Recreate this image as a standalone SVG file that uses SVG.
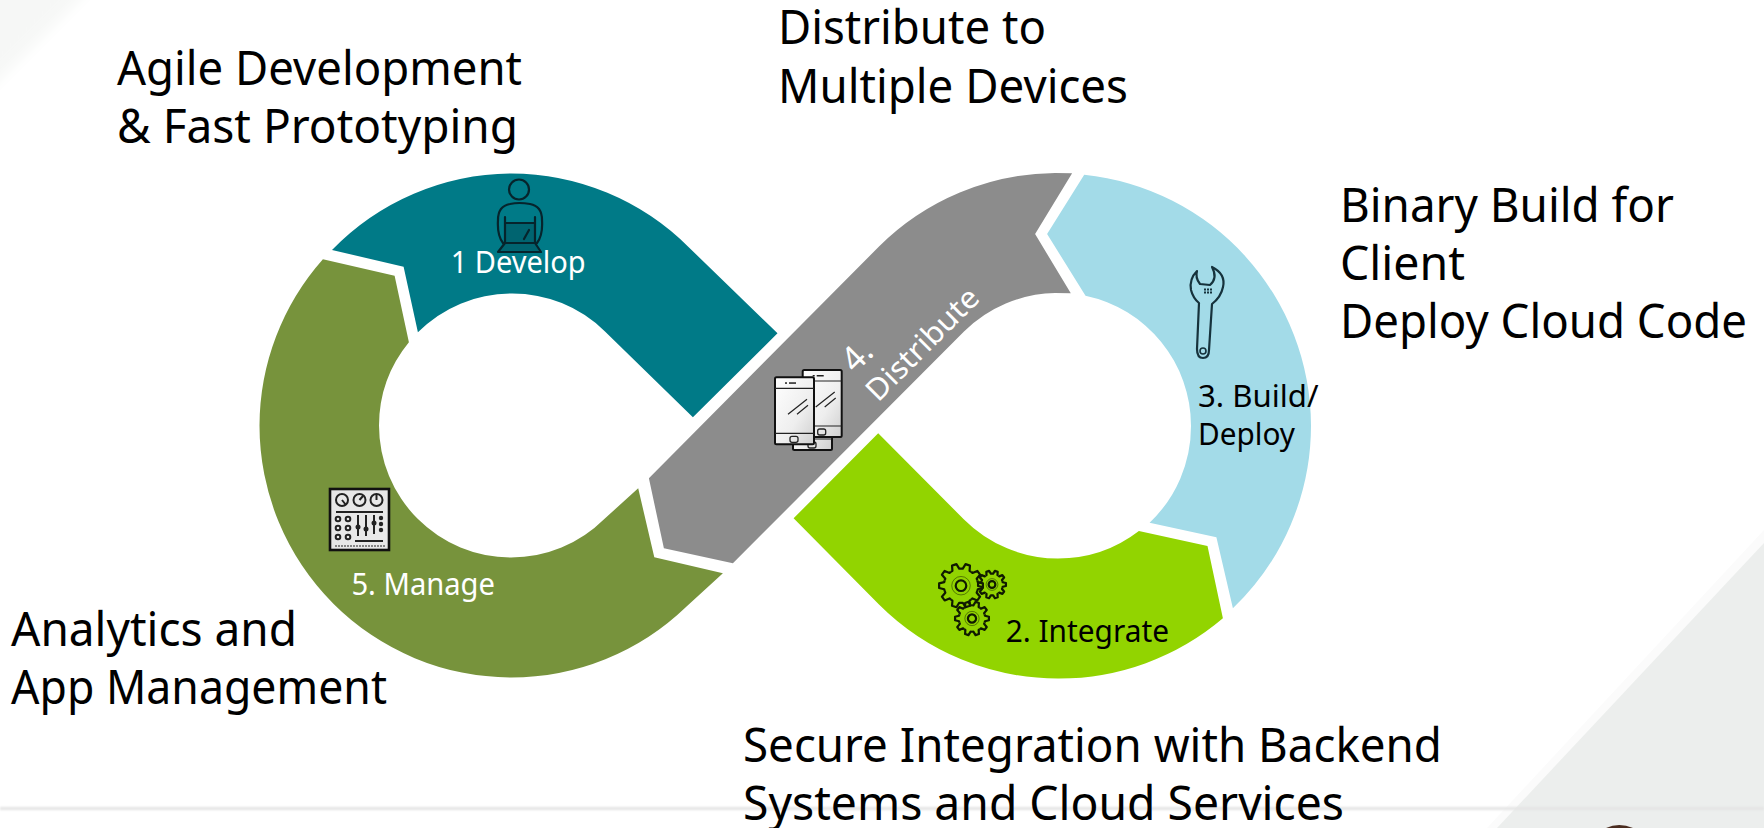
<svg xmlns="http://www.w3.org/2000/svg" xmlns:xlink="http://www.w3.org/1999/xlink" width="1764" height="828" viewBox="0 0 1764 828">
<style>
text{font-family:"Noto Sans","Lato","Liberation Sans",sans-serif;font-variant-ligatures:none}
.h{font-size:47px;fill:#000}
.w{font-size:30px;fill:#fff}
.k{font-size:30px;fill:#000}
.ic{fill:none;stroke:#06242c;stroke-width:2.200;stroke-linejoin:round;stroke-linecap:round}
.ph{fill:url(#pg);stroke:#111;stroke-width:2}
.phl{fill:none;stroke:#222;stroke-width:1.200}
.t{fill:none;stroke:#101a00;stroke-width:2.200;stroke-linejoin:round;vector-effect:non-scaling-stroke}
.m{fill:none;stroke:#222;stroke-width:2}
.md{fill:#222}
</style>
<defs>
<filter id="soft" x="-20%" y="-20%" width="140%" height="140%"><feGaussianBlur stdDeviation="6"/></filter>
<filter id="softer" x="-5%" y="-200%" width="110%" height="500%"><feGaussianBlur stdDeviation="1.200"/></filter>
<linearGradient id="pg" x1="0" y1="0" x2="1" y2="1"><stop offset="0" stop-color="#fff"/><stop offset="0.6" stop-color="#eee"/><stop offset="1" stop-color="#cfcfcf"/></linearGradient>
<linearGradient id="tl" x1="0" y1="0" x2="1" y2="1"><stop offset="0" stop-color="#f5f6f5"/><stop offset="0.45" stop-color="#f7f8f7"/><stop offset="1" stop-color="#ffffff"/></linearGradient>
<path id="tooth" class="t" d="M74.200-24.100L76.300-16.200L99.500-10.500V10.500L76.300 16.200L74.200 24.100"/>
<g id="gear">
<use xlink:href="#tooth"/><use xlink:href="#tooth" transform="rotate(36)"/><use xlink:href="#tooth" transform="rotate(72)"/><use xlink:href="#tooth" transform="rotate(108)"/><use xlink:href="#tooth" transform="rotate(144)"/><use xlink:href="#tooth" transform="rotate(180)"/><use xlink:href="#tooth" transform="rotate(216)"/><use xlink:href="#tooth" transform="rotate(252)"/><use xlink:href="#tooth" transform="rotate(288)"/><use xlink:href="#tooth" transform="rotate(324)"/>
<circle class="t" r="24"/><circle r="42" fill="none" stroke="#101a00" stroke-width="0.8" vector-effect="non-scaling-stroke" stroke-opacity=".6"/>
</g>
<g id="phone">
<rect class="ph" x="0" y="0" width="39" height="67" rx="1.500"/>
<path class="phl" d="M0 11H39M0 56H39"/>
<rect x="10" y="5" width="2" height="1.500" fill="#222"/><rect x="14" y="5" width="7" height="1.500" fill="#222"/>
<rect x="15" y="59" width="8" height="6" rx="2" fill="none" stroke="#222" stroke-width="1.300"/>
<path class="phl" d="M13 37L32 22M22 37L33 28"/>
</g>
</defs>
<g id="background">
<rect width="1764" height="828" fill="#fff"/>
<path d="M-20 -20H100L-20 100Z" fill="url(#tl)" filter="url(#soft)"/>
<path d="M1487 828L1764 530V543L1764 828Z" fill="#fbfbfb"/>
<path d="M1497 828L1764 543V828Z" fill="#eceeed"/>
<rect x="0" y="807" width="1764" height="3" fill="#e4e4e4" filter="url(#softer)"/>
<path d="M1606 828Q1619 822 1633 828Z" fill="#4a2c1f"/>
</g>
<g id="develop">
<path fill="#007a87" d="M332 250A252 252 0 0 1 511 173.500A252 252 0 0 1 689 247.500L777.500 333.300L692.900 417.300L605 331.500A132 132 0 0 0 511 293.500A132 132 0 0 0 417.900 332.300L403.600 266.700Z"/>
<g class="ic">
<circle cx="519" cy="189.500" r="10"/>
<path d="M503 243Q497 235 498 220Q498 206 510 204Q519 202 530 204Q542 206 542 220Q543 235 537 243"/>
<path d="M505 223H535V243H505Z" fill="#006470"/>
<path d="M498 252L505 243H535L541 252Z" fill="#006470"/>
<path d="M505 223V217M535 223V217M524 239L529 230"/>
</g>
<text class="w" x="450.700" y="273.300" textLength="135" lengthAdjust="spacingAndGlyphs">1 Develop</text>
</g>
<g id="manage">
<path fill="#77933c" d="M322.900 259.300L394.600 275.700L408.900 342.300A132 132 0 0 0 379 425.500A132 132 0 0 0 511 557.500A132 132 0 0 0 604.300 519L638.200 488.300L654.300 557.300L722.900 573.300L686 607A252 252 0 0 1 511 677.500A252 252 0 0 1 259.500 425.500A252 252 0 0 1 322.900 259.300Z"/>
<rect x="330" y="489" width="59" height="61" fill="#e8e8e8" stroke="#111" stroke-width="2.600"/>
<g class="m">
<circle cx="342" cy="500" r="6"/><circle cx="359.500" cy="500" r="6"/><circle cx="376.500" cy="500" r="6"/>
<path d="M336 512H383M355 541H383"/>
<circle cx="338" cy="519" r="2.300"/><circle cx="348" cy="519" r="2.300"/><circle cx="338" cy="528" r="2.300"/><circle cx="348" cy="528" r="2.300"/><circle cx="338" cy="537" r="2.300"/><circle cx="348" cy="537" r="2.300"/>
<path d="M358 515V536M366 515V536M374 515V534M342 500L346 505M359.500 500L363 496M376.500 495V500"/>
<path d="M335 546H385" stroke-width="1" stroke-dasharray="2 1"/>
</g>
<g class="md"><circle cx="358" cy="527" r="2.500"/><circle cx="366" cy="529" r="2.500"/><circle cx="374" cy="523" r="2.500"/><circle cx="381" cy="518" r="2.200"/><circle cx="381" cy="524" r="2.200"/><circle cx="381" cy="530" r="2.200"/></g>
<text class="w" x="351.400" y="595" textLength="143.600" lengthAdjust="spacingAndGlyphs">5. Manage</text>
</g>
<g id="distribute">
<path fill="#8c8c8c" d="M1055 173L1072.100 173.300L1035.100 234L1070.800 293.300L1055 293A133 133 0 0 0 964 331.500L732.900 563.300L663.900 548.300L648.900 478.300L879 246.500A253 253 0 0 1 1055 173Z"/>
<use xlink:href="#phone" transform="translate(793 383)"/>
<use xlink:href="#phone" transform="translate(802.700 370)"/>
<use xlink:href="#phone" transform="translate(775 377.300)"/>
<text class="w" transform="translate(855 374) rotate(-45)" style="font-size:34px">4.</text>
<text class="w" transform="translate(878 403) rotate(-45)" textLength="146" lengthAdjust="spacingAndGlyphs">Distribute</text>
</g>
<g id="build">
<path fill="#a3dbe8" d="M1084.200 174.700A253 253 0 0 1 1311 425.500A253 253 0 0 1 1232.900 608.300L1216.400 537.300L1149.600 522.700A133 133 0 0 0 1191 425.500A133 133 0 0 0 1085.500 295.700L1047.100 234Z"/>
<path fill="none" stroke="#16323c" stroke-width="2.200" stroke-linejoin="round" d="M1199 303L1197 349Q1197 358 1203 358Q1209 358 1209 350L1212 304Q1221 297 1223 287Q1226 274 1212 267Q1218 278 1210 285L1200 284Q1195 278 1197 271Q1189 279 1191 290Q1193 298 1199 303Z"/>
<circle cx="1203" cy="351" r="3" fill="none" stroke="#16323c" stroke-width="1.600"/>
<path d="M1204 289.500H1212M1204 292.500H1212" stroke="#16323c" stroke-width="2" stroke-dasharray="2 1"/>
<text class="k" x="1198" y="406.700" textLength="120.600" lengthAdjust="spacingAndGlyphs">3. Build/</text>
<text class="k" x="1198" y="445" textLength="97" lengthAdjust="spacingAndGlyphs">Deploy</text>
</g>
<g id="integrate">
<path fill="#92d400" d="M878.200 433.300L964 519.500A133 133 0 0 0 1058 558.500A133 133 0 0 0 1138.900 531L1207.500 546L1222.900 618.300A253 253 0 0 1 1058 678.500A253 253 0 0 1 879 604.500L793.600 518.300Z"/>
<use xlink:href="#gear" transform="translate(961 585.700) scale(.22)"/>
<use xlink:href="#gear" transform="translate(992 584.500) scale(.14)"/>
<use xlink:href="#gear" transform="translate(972 618.500) scale(.17)"/>
<text class="k" x="1005.700" y="641.700" textLength="163.300" lengthAdjust="spacingAndGlyphs">2. Integrate</text>
</g>
<g id="captions">
<text class="h" x="117" y="85" textLength="405" lengthAdjust="spacingAndGlyphs">Agile Development</text>
<text class="h" x="117" y="143" textLength="401" lengthAdjust="spacingAndGlyphs">&amp; Fast Prototyping</text>
<text class="h" x="778" y="44" textLength="268" lengthAdjust="spacingAndGlyphs">Distribute to</text>
<text class="h" x="778" y="103" textLength="350" lengthAdjust="spacingAndGlyphs">Multiple Devices</text>
<text class="h" x="1340" y="222" textLength="334" lengthAdjust="spacingAndGlyphs">Binary Build for</text>
<text class="h" x="1340" y="280" textLength="125" lengthAdjust="spacingAndGlyphs">Client</text>
<text class="h" x="1340" y="338" textLength="407" lengthAdjust="spacingAndGlyphs">Deploy Cloud Code</text>
<text class="h" x="11" y="646" textLength="286" lengthAdjust="spacingAndGlyphs">Analytics and</text>
<text class="h" x="11" y="704" textLength="376" lengthAdjust="spacingAndGlyphs">App Management</text>
<text class="h" x="743" y="762" textLength="699" lengthAdjust="spacingAndGlyphs">Secure Integration with Backend</text>
<text class="h" x="743" y="820" textLength="601" lengthAdjust="spacingAndGlyphs">Systems and Cloud Services</text>
</g>
</svg>
